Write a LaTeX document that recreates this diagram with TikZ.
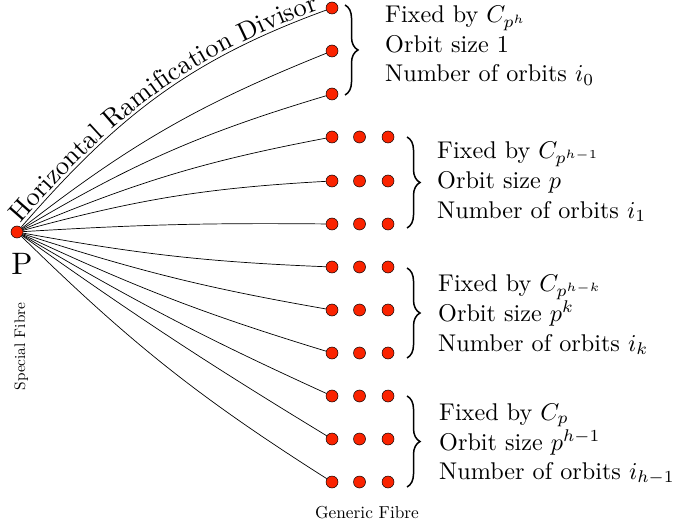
\documentclass[tikz,border=0pt]{standalone}
\usepackage{graphicx}
\usetikzlibrary{decorations.pathreplacing,decorations.text}
\definecolor{dotred}{RGB}{250,35,0}
\font\hrdfont="[lmroman10-regular]" at 26.5pt
\newcommand\txs[1]{\scalebox{2.42}{#1}}
\begin{document}
\begin{tikzpicture}[x=1pt,y=1pt,
  dot/.style={circle,draw=black,line width=0.5pt,fill=dotred,minimum size=12pt,inner sep=0pt},
  fib/.style={line width=0.7pt},
  brc/.style={decorate,decoration={brace,amplitude=13pt},line width=1.5pt},
  lbl/.style={anchor=base west,inner sep=0pt}]
\useasboundingbox (0,0) rectangle (676,-529);
\node[dot] (P) at (17,-232) {};
\foreach \i/\y in {1/8,2/51,3/94,4/137,5/181,6/224,7/267,8/310,9/353,10/396,11/439,12/482}
  \node[dot] (a\i) at (332,-\y) {};
\foreach \i/\y in {4/137,5/181,6/224,7/267,8/310,9/353,10/396,11/439,12/482}
  {\node[dot] (b\i) at (359.5,-\y) {};
   \node[dot] (c\i) at (388,-\y) {};}
\foreach \i/\o/\n in {1/49/200,2/37.9/201.9,3/30.7/196.7,4/22.8/190.8,5/15.2/183.2,6/3.5/179.5,7/-10.3/177.7,8/-17.9/170.1,9/-25/163,10/-30.5/155.5,11/-35.3/148.7,12/-44.4/147.6}
  \draw[fib] (P) to[out=\o,in=\n] (a\i);
\path[decorate,decoration={text along path,text={|\hrdfont|Horizontal Ramification Divisor},text align={left indent=2pt},raise=3pt}] (P) to[out=49,in=200] (a1);
% braces
\draw[brc] (345,-5) -- (345,-95);
\draw[brc] (407,-137) -- (407,-228);
\draw[brc] (407,-268) -- (407,-358);
\draw[brc] (407,-396) -- (407,-487);
% texts
\node[lbl] (t0a) at (385,-23) {\txs{Fixed by $C_{p^h}$}};
\node[lbl] (t0b) at (385,-52.7) {\txs{Orbit size 1}};
\node[lbl] (t0c) at (385,-81.7) {\txs{Number of orbits $i_0$}};
\node[lbl] (t1a) at (437,-158.3) {\txs{Fixed by $C_{p^{h-1}}$}};
\node[lbl] (t1b) at (437,-188.3) {\txs{Orbit size $p$}};
\node[lbl] (t1c) at (437,-218.3) {\txs{Number of orbits $i_1$}};
\node[lbl] (t2a) at (438,-291.7) {\txs{Fixed by $C_{p^{h-k}}$}};
\node[lbl] (t2b) at (438,-321) {\txs{Orbit size $p^k$}};
\node[lbl] (t2c) at (438,-351) {\txs{Number of orbits $i_k$}};
\node[lbl] (t3a) at (439,-420) {\txs{Fixed by $C_p$}};
\node[lbl] (t3b) at (439,-450) {\txs{Orbit size $p^{h-1}$}};
\node[lbl] (t3c) at (439,-479.3) {\txs{Number of orbits $i_{h-1}$}};
\node[anchor=base,inner sep=0pt] (plbl) at (22,-274) {\scalebox{3.1}{P}};
\node[anchor=base,inner sep=0pt,rotate=90] (sf) at (25,-346.5) {\scalebox{1.53}{Special Fibre}};
\node[anchor=base,inner sep=0pt] (gf) at (367,-518) {\scalebox{1.73}{Generic Fibre}};
\end{tikzpicture}
\end{document}
